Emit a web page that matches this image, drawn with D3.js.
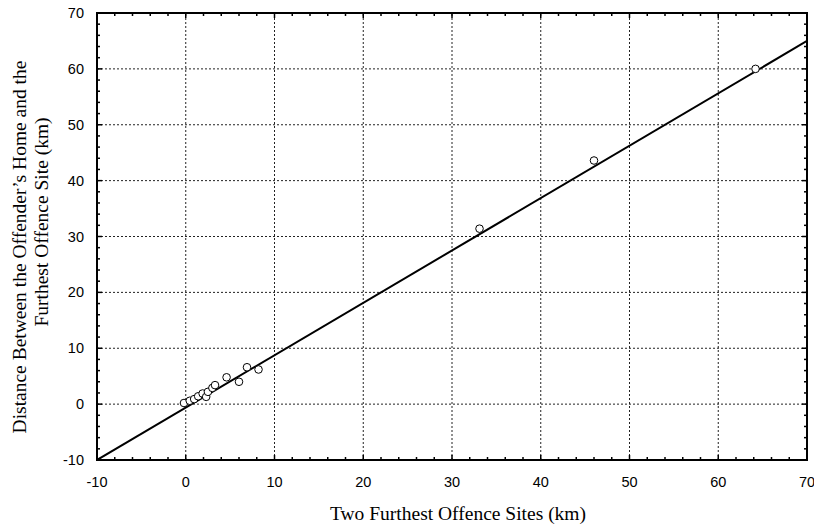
<!DOCTYPE html>
<html>
<head>
<meta charset="utf-8">
<script src="https://cdn.jsdelivr.net/npm/d3@7"></script>
<style>
  body { margin: 0; background: #fff; }
  svg { display: block; }
</style>
</head>
<body>
<div id="chart"></div>
<script>
// observed points (km)
var siteSpan = [-0.2, 0.45, 0.95, 1.4, 1.9, 2.3, 2.5, 3.0, 3.3, 4.6, 6.0, 6.9, 8.2, 33.1, 46.0, 64.2];
var homeDist = [0.2, 0.6, 0.9, 1.4, 1.9, 1.3, 2.2, 2.9, 3.4, 4.8, 4.0, 6.6, 6.2, 31.4, 43.6, 60.0];
// fitted line
var fitSlope = [0.9375];
var fitIntercept = [-0.625];
var xTicks = [-10, 0, 10, 20, 30, 40, 50, 60, 70];
var yTicks = [-10, 0, 10, 20, 30, 40, 50, 60, 70];

var width = 814, height = 526;
var margin = {left: 97, right: 7, top: 13, bottom: 66};

var svg = d3.select("#chart").append("svg")
    .attr("width", width)
    .attr("height", height);

var x = d3.scaleLinear().domain([-10, 70]).range([margin.left, width - margin.right]);
var y = d3.scaleLinear().domain([-10, 70]).range([height - margin.bottom, margin.top]);

var sansFont = "'Liberation Sans', Arial, sans-serif";
var serifFont = "'Liberation Serif', 'Times New Roman', serif";

// grid
var grid = svg.append("g");
grid.selectAll("line.vx")
    .data(xTicks.slice(1, -1))
    .enter().append("line")
    .attr("x1", function (d) { return x(d); })
    .attr("x2", function (d) { return x(d); })
    .attr("y1", y(-10)).attr("y2", y(70))
    .attr("stroke", "#222").attr("stroke-width", 1)
    .attr("stroke-dasharray", "2,2");
grid.selectAll("line.hy")
    .data(yTicks.slice(1, -1))
    .enter().append("line")
    .attr("y1", function (d) { return y(d); })
    .attr("y2", function (d) { return y(d); })
    .attr("x1", x(-10)).attr("x2", x(70))
    .attr("stroke", "#222").attr("stroke-width", 1)
    .attr("stroke-dasharray", "2,2");

// minor + major ticks, pointing inward on all sides
var minor = d3.range(-10, 71, 2);
function tickLen(d) { return d % 10 === 0 ? 5 : 3; }
var ticks = svg.append("g").attr("stroke", "#000").attr("stroke-width", 1.5);
ticks.selectAll("line.b").data(minor).enter().append("line")
    .attr("x1", function (d) { return x(d); }).attr("x2", function (d) { return x(d); })
    .attr("y1", y(-10)).attr("y2", function (d) { return y(-10) - tickLen(d); });
ticks.selectAll("line.t").data(minor).enter().append("line")
    .attr("x1", function (d) { return x(d); }).attr("x2", function (d) { return x(d); })
    .attr("y1", y(70)).attr("y2", function (d) { return y(70) + tickLen(d); });
ticks.selectAll("line.l").data(minor).enter().append("line")
    .attr("y1", function (d) { return y(d); }).attr("y2", function (d) { return y(d); })
    .attr("x1", x(-10)).attr("x2", function (d) { return x(-10) + tickLen(d); });
ticks.selectAll("line.r").data(minor).enter().append("line")
    .attr("y1", function (d) { return y(d); }).attr("y2", function (d) { return y(d); })
    .attr("x1", x(70)).attr("x2", function (d) { return x(70) - tickLen(d); });

// frame
svg.append("rect")
    .attr("x", x(-10)).attr("y", y(70))
    .attr("width", x(70) - x(-10)).attr("height", y(-10) - y(70))
    .attr("fill", "none").attr("stroke", "#000").attr("stroke-width", 2);

// tick labels
svg.append("g").selectAll("text")
    .data(xTicks).enter().append("text")
    .attr("x", function (d) { return x(d); })
    .attr("y", y(-10) + 27)
    .attr("text-anchor", "middle")
    .style("font-family", sansFont).style("font-size", "14.5px")
    .text(function (d) { return d; });
svg.append("g").selectAll("text")
    .data(yTicks).enter().append("text")
    .attr("x", x(-10) - 13)
    .attr("y", function (d) { return y(d) + 5; })
    .attr("text-anchor", "end")
    .style("font-family", sansFont).style("font-size", "14.5px")
    .text(function (d) { return d; });

// fitted line
svg.append("clipPath").attr("id", "plotclip").append("rect")
    .attr("x", x(-10)).attr("y", y(70))
    .attr("width", x(70) - x(-10)).attr("height", y(-10) - y(70));
var lineGen = d3.line()
    .x(function (d) { return x(d); })
    .y(function (d) { return y(fitIntercept[0] + fitSlope[0] * d); });
svg.append("path")
    .datum([-10, 70])
    .attr("clip-path", "url(#plotclip)")
    .attr("d", lineGen)
    .attr("fill", "none").attr("stroke", "#000").attr("stroke-width", 2);

// points
svg.append("g").selectAll("circle")
    .data(siteSpan).enter().append("circle")
    .attr("cx", function (d) { return x(d); })
    .attr("cy", function (d, i) { return y(homeDist[i]); })
    .attr("r", 3.8)
    .attr("fill", "#fff").attr("stroke", "#000").attr("stroke-width", 1);

// axis titles
svg.append("text")
    .attr("x", (x(-10) + x(70)) / 2 + 6)
    .attr("y", 520)
    .attr("text-anchor", "middle")
    .style("font-family", serifFont).style("font-size", "19.5px")
    .text("Two Furthest Offence Sites (km)");

svg.append("text")
    .attr("transform", "translate(26,247) rotate(-90)")
    .attr("text-anchor", "middle")
    .style("font-family", serifFont).style("font-size", "19.5px")
    .text("Distance Between the Offender\u2019s Home and the");
svg.append("text")
    .attr("transform", "translate(48,222) rotate(-90)")
    .attr("text-anchor", "middle")
    .style("font-family", serifFont).style("font-size", "19.5px")
    .text("Furthest Offence Site (km)");
</script>
</body>
</html>
